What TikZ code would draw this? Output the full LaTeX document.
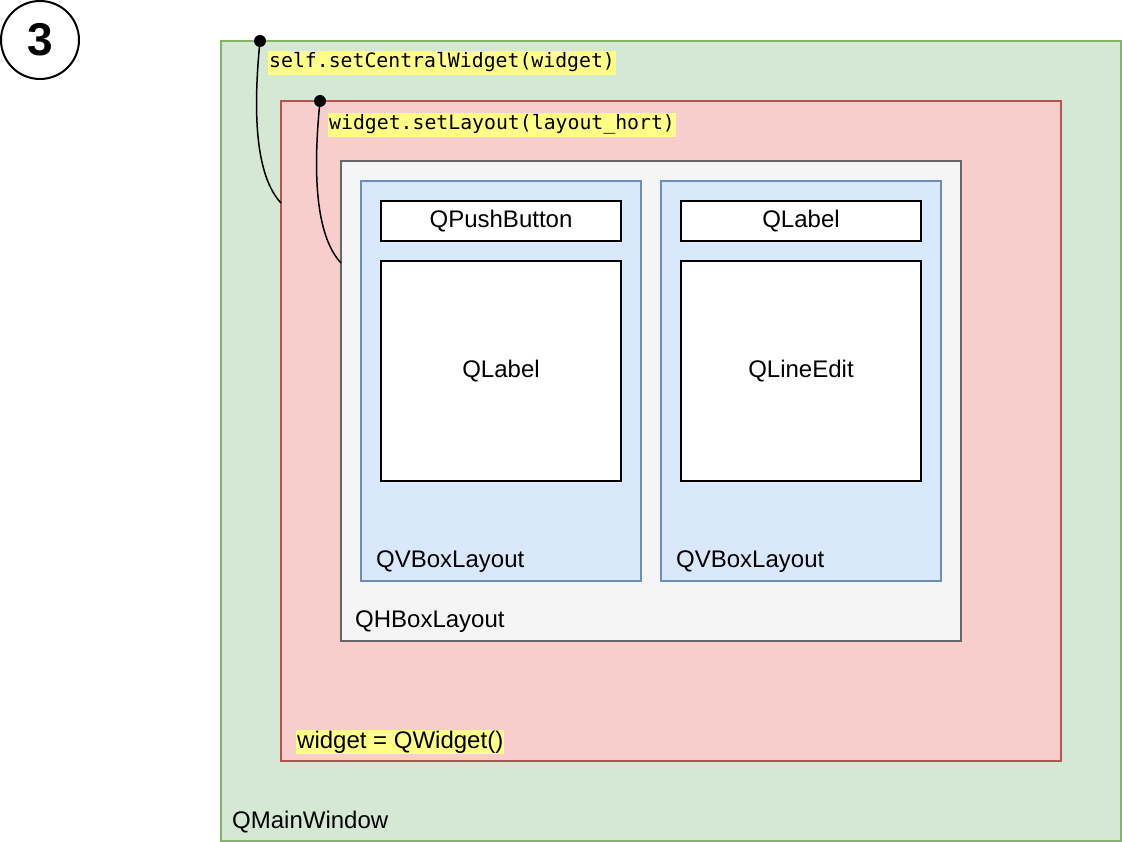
\documentclass[tikz,border=0pt]{standalone}
\usepackage{fontspec}
\setmainfont{Liberation Sans}
\setmonofont{DejaVu Sans Mono}
\usepackage{tikz}
\usetikzlibrary{positioning}

\definecolor{mainfill}{HTML}{D5E8D4}
\definecolor{mainline}{HTML}{82B366}
\definecolor{wgtfill}{HTML}{F8CECC}
\definecolor{wgtline}{HTML}{B85450}
\definecolor{hboxfill}{HTML}{F5F5F5}
\definecolor{hboxline}{HTML}{666666}
\definecolor{vboxfill}{HTML}{DAE8FC}
\definecolor{vboxline}{HTML}{6C8EBF}
\definecolor{hilite}{HTML}{FFFF88}

\tikzset{
  frame/.style 2 args = {draw, inner sep=0pt, outer sep=0pt,
    minimum width=#1, minimum height=#2, line width=1.5pt},
  widgetbox/.style 2 args = {frame={#1}{#2}, fill=white, draw=black,
    line width=2pt, font=\fontsize{24}{28}\selectfont},
  caption/.style = {anchor=west, inner sep=0pt, font=\fontsize{24}{28}\selectfont},
  code/.style = {anchor=west, fill=hilite, inner xsep=1pt, inner ysep=2pt,
    text height=15pt, text depth=5pt, font=\ttfamily\fontsize{19.8}{24}\selectfont},
  dot/.style = {circle, fill=black, inner sep=0pt, minimum size=12pt},
  wire/.style = {line width=1.5pt},
}

\begin{document}
\begin{tikzpicture}[x=1pt, y=-1pt]
  \useasboundingbox (0,0) rectangle (1122,842);

  \node[circle, draw, line width=2pt, minimum size=78pt,
    font=\bfseries\fontsize{46}{50}\selectfont] (stepnum) at (40,40) {3};

  % nested containers
  \node[frame={900pt}{800pt}, fill=mainfill, draw=mainline] (mainwin) at (671,441) {};
  \node[frame={780pt}{660pt}, fill=wgtfill, draw=wgtline] (central) at (671,431) {};
  \node[frame={620pt}{480pt}, fill=hboxfill, draw=hboxline] (hbox) at (651,401) {};
  \node[frame={280pt}{400pt}, fill=vboxfill, draw=vboxline] (vboxl) at (501,381) {};
  \node[frame={280pt}{400pt}, fill=vboxfill, draw=vboxline, right=20pt of vboxl] (vboxr) {};

  % widgets
  \node[widgetbox={240pt}{40pt}] (pushbtn) at (501,221) {QPushButton};
  \node[widgetbox={240pt}{220pt}, below=20pt of pushbtn] (imglabel) {QLabel};
  \node[widgetbox={240pt}{40pt}] (toplabel) at (801,221) {QLabel};
  \node[widgetbox={240pt}{220pt}, below=20pt of toplabel] (lineedit) {QLineEdit};

  % captions
  \node[caption] (vbcapl) at (376,562) {QVBoxLayout};
  \node[caption] (vbcapr) at (676,562) {QVBoxLayout};
  \node[caption] (hbcap) at (355,622) {QHBoxLayout};
  \node[caption, fill=hilite, inner xsep=1pt, inner ysep=1pt] (wgtcap) at (296,742) {widget = QWidget()};
  \node[caption] (maincap) at (232,822) {QMainWindow};

  \node[code] (setcw) at (268,63) {self.setCentralWidget(widget)};
  \node[code] (setlay) at (328,125) {widget.setLayout(layout\_hort)};

  % connectors
  \node[dot] (cwdot) at (260,41) {};
  \node[dot] (laydot) at (320,101) {};
  \coordinate (cwend) at (281,203);
  \coordinate (layend) at (341,263);

  \foreach \s/\e in {cwdot/cwend, laydot/layend}
    \draw[wire] (\s.center) .. controls +(-7,70) and +(-26,-28) .. (\e);
\end{tikzpicture}
\end{document}
